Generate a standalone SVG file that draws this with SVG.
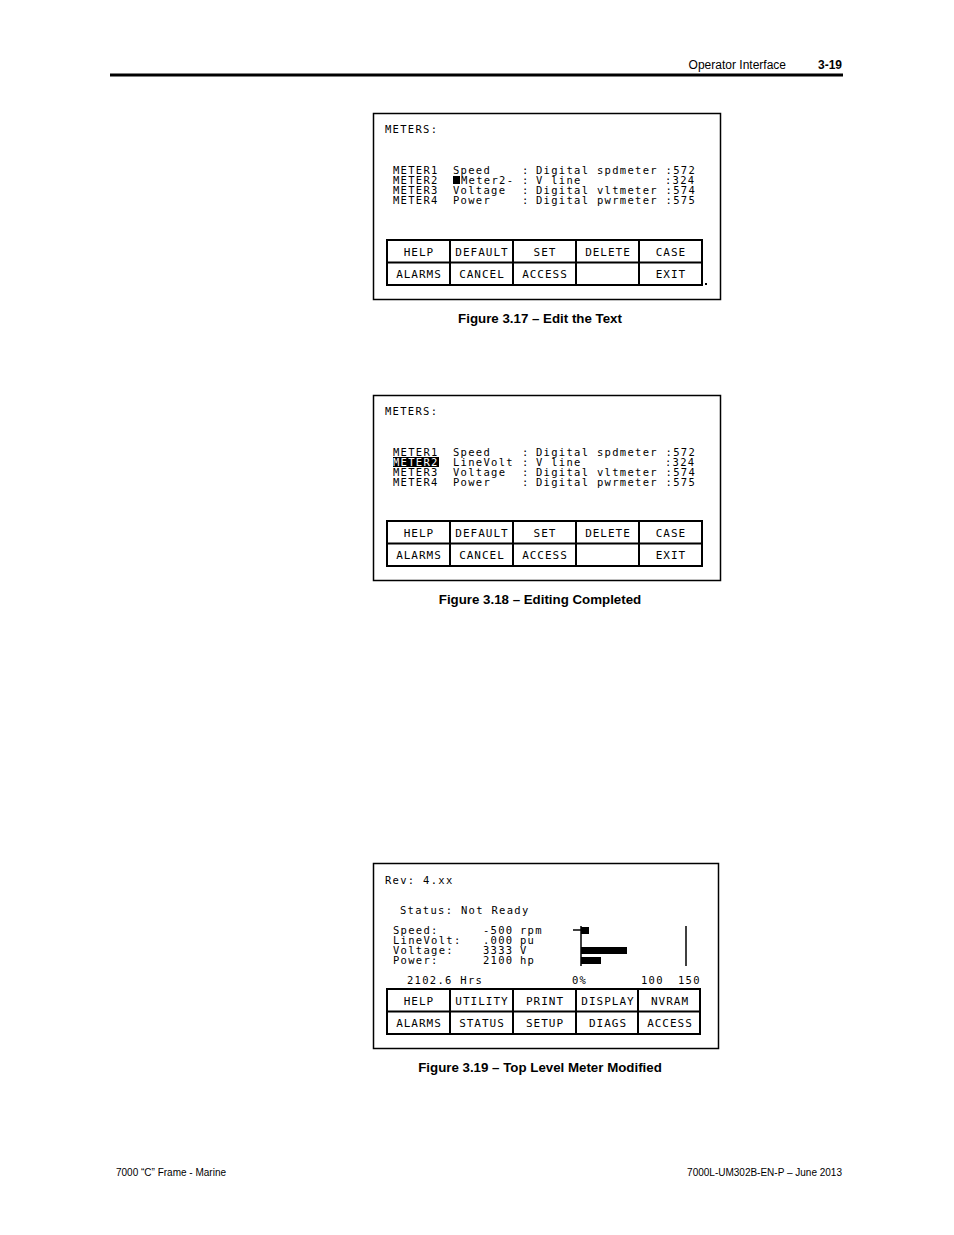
<svg xmlns="http://www.w3.org/2000/svg" width="954" height="1235" viewBox="0 0 954 1235">
<style>
.m{font-family:"DejaVu Sans Mono","Liberation Mono",monospace;font-size:10.5px;letter-spacing:1.3px;fill:#000}
.b{font-family:"DejaVu Sans Mono","Liberation Mono",monospace;font-size:11px;letter-spacing:1px;fill:#000;text-anchor:middle}
.cap{font-family:"Liberation Sans Narrow","Liberation Sans",sans-serif;font-size:13.3px;font-weight:bold;text-anchor:middle}
.hd{font-family:"Liberation Sans Narrow","Liberation Sans",sans-serif;font-size:12px}
.ft{font-family:"Liberation Sans Narrow","Liberation Sans",sans-serif;font-size:10px}
.fr{fill:#fff;stroke:#000;stroke-width:1.5}
.g{fill:none;stroke:#000;stroke-width:2}
</style>
<rect width="954" height="1235" fill="#fff"/>
<line x1="110" y1="75" x2="843" y2="75" stroke="#000" stroke-width="3"/>
<text class="hd" x="786" y="69" text-anchor="end">Operator Interface</text>
<text class="hd" x="842" y="69" text-anchor="end" font-weight="bold">3-19</text>
<text class="ft" x="116" y="1176">7000 “C” Frame - Marine</text>
<text class="ft" x="842" y="1176" text-anchor="end">7000L-UM302B-EN-P – June 2013</text>

<g id="fig317">
<rect class="fr" x="373.5" y="113.5" width="347" height="186"/>
<text class="m" x="385" y="133">METERS:</text>
<text class="m" x="393" y="174">METER1</text><text class="m" x="453" y="174">Speed</text><text class="m" x="522" y="174">:</text><text class="m" x="536" y="174">Digital spdmeter :572</text>
<text class="m" x="393" y="184">METER2</text><rect x="453" y="176" width="7" height="8"/><text class="m" x="461" y="184">Meter2-</text><text class="m" x="522" y="184">:</text><text class="m" x="536" y="184">V line</text><text class="m" x="665" y="184">:324</text>
<text class="m" x="393" y="194">METER3</text><text class="m" x="453" y="194">Voltage</text><text class="m" x="522" y="194">:</text><text class="m" x="536" y="194">Digital vltmeter :574</text>
<text class="m" x="393" y="204">METER4</text><text class="m" x="453" y="204">Power</text><text class="m" x="522" y="204">:</text><text class="m" x="536" y="204">Digital pwrmeter :575</text>
<g class="g"><rect x="387" y="240" width="315" height="45"/><line x1="387" y1="262.5" x2="702" y2="262.5"/><line x1="450" y1="240" x2="450" y2="285"/><line x1="513" y1="240" x2="513" y2="285"/><line x1="576" y1="240" x2="576" y2="285"/><line x1="639" y1="240" x2="639" y2="285"/></g>
<text class="b" x="419" y="256">HELP</text><text class="b" x="482" y="256">DEFAULT</text><text class="b" x="545" y="256">SET</text><text class="b" x="608" y="256">DELETE</text><text class="b" x="671" y="256">CASE</text>
<text class="b" x="419" y="278">ALARMS</text><text class="b" x="482" y="278">CANCEL</text><text class="b" x="545" y="278">ACCESS</text><text class="b" x="671" y="278">EXIT</text>
<rect x="705" y="283" width="2" height="2"/>
</g>
<text class="cap" x="540" y="323">Figure 3.17  – Edit the Text</text>

<g id="fig318">
<rect class="fr" x="373.5" y="395.5" width="347" height="185"/>
<text class="m" x="385" y="415">METERS:</text>
<text class="m" x="393" y="456">METER1</text><text class="m" x="453" y="456">Speed</text><text class="m" x="522" y="456">:</text><text class="m" x="536" y="456">Digital spdmeter :572</text>
<rect x="393" y="457" width="46" height="10"/><text class="m" x="393" y="466" style="fill:#fff">METER2</text><text class="m" x="453" y="466">LineVolt</text><text class="m" x="522" y="466">:</text><text class="m" x="536" y="466">V line</text><text class="m" x="665" y="466">:324</text>
<text class="m" x="393" y="476">METER3</text><text class="m" x="453" y="476">Voltage</text><text class="m" x="522" y="476">:</text><text class="m" x="536" y="476">Digital vltmeter :574</text>
<text class="m" x="393" y="486">METER4</text><text class="m" x="453" y="486">Power</text><text class="m" x="522" y="486">:</text><text class="m" x="536" y="486">Digital pwrmeter :575</text>
<g class="g"><rect x="387" y="521" width="315" height="45"/><line x1="387" y1="543.5" x2="702" y2="543.5"/><line x1="450" y1="521" x2="450" y2="566"/><line x1="513" y1="521" x2="513" y2="566"/><line x1="576" y1="521" x2="576" y2="566"/><line x1="639" y1="521" x2="639" y2="566"/></g>
<text class="b" x="419" y="537">HELP</text><text class="b" x="482" y="537">DEFAULT</text><text class="b" x="545" y="537">SET</text><text class="b" x="608" y="537">DELETE</text><text class="b" x="671" y="537">CASE</text>
<text class="b" x="419" y="559">ALARMS</text><text class="b" x="482" y="559">CANCEL</text><text class="b" x="545" y="559">ACCESS</text><text class="b" x="671" y="559">EXIT</text>
</g>
<text class="cap" x="540" y="604">Figure 3.18 – Editing Completed</text>

<g id="fig319">
<rect class="fr" x="373.5" y="863.5" width="345" height="185"/>
<text class="m" x="385" y="884">Rev: 4.xx</text>
<text class="m" x="400" y="914">Status: Not Ready</text>
<text class="m" x="393" y="934">Speed:</text><text class="m" x="483" y="934">-500</text><text class="m" x="520" y="934">rpm</text>
<text class="m" x="393" y="944">LineVolt:</text><text class="m" x="483" y="944">.000</text><text class="m" x="520" y="944">pu</text>
<text class="m" x="393" y="954">Voltage:</text><text class="m" x="483" y="954">3333</text><text class="m" x="520" y="954">V</text>
<text class="m" x="393" y="964">Power:</text><text class="m" x="483" y="964">2100</text><text class="m" x="520" y="964">hp</text>
<line x1="581" y1="926" x2="581" y2="966" stroke="#000" stroke-width="1.5"/>
<line x1="573" y1="930" x2="581" y2="930" stroke="#000" stroke-width="1.5"/>
<rect x="581" y="927" width="8" height="7"/>
<rect x="581" y="947" width="46" height="7"/>
<rect x="581" y="957" width="20" height="7"/>
<line x1="686" y1="926" x2="686" y2="966" stroke="#000" stroke-width="1.5"/>
<text class="m" x="407" y="984">2102.6 Hrs</text><text class="m" x="572" y="984">0%</text><text class="m" x="641" y="984">100</text><text class="m" x="678" y="984">150</text>
<g class="g"><rect x="387" y="989" width="313" height="45"/><line x1="387" y1="1011.5" x2="700" y2="1011.5"/><line x1="450" y1="989" x2="450" y2="1034"/><line x1="513" y1="989" x2="513" y2="1034"/><line x1="576" y1="989" x2="576" y2="1034"/><line x1="638" y1="989" x2="638" y2="1034"/></g>
<text class="b" x="419" y="1005">HELP</text><text class="b" x="482" y="1005">UTILITY</text><text class="b" x="545" y="1005">PRINT</text><text class="b" x="608" y="1005">DISPLAY</text><text class="b" x="670" y="1005">NVRAM</text>
<text class="b" x="419" y="1027">ALARMS</text><text class="b" x="482" y="1027">STATUS</text><text class="b" x="545" y="1027">SETUP</text><text class="b" x="608" y="1027">DIAGS</text><text class="b" x="670" y="1027">ACCESS</text>
</g>
<text class="cap" x="540" y="1072">Figure 3.19 – Top Level Meter Modified</text>
</svg>
